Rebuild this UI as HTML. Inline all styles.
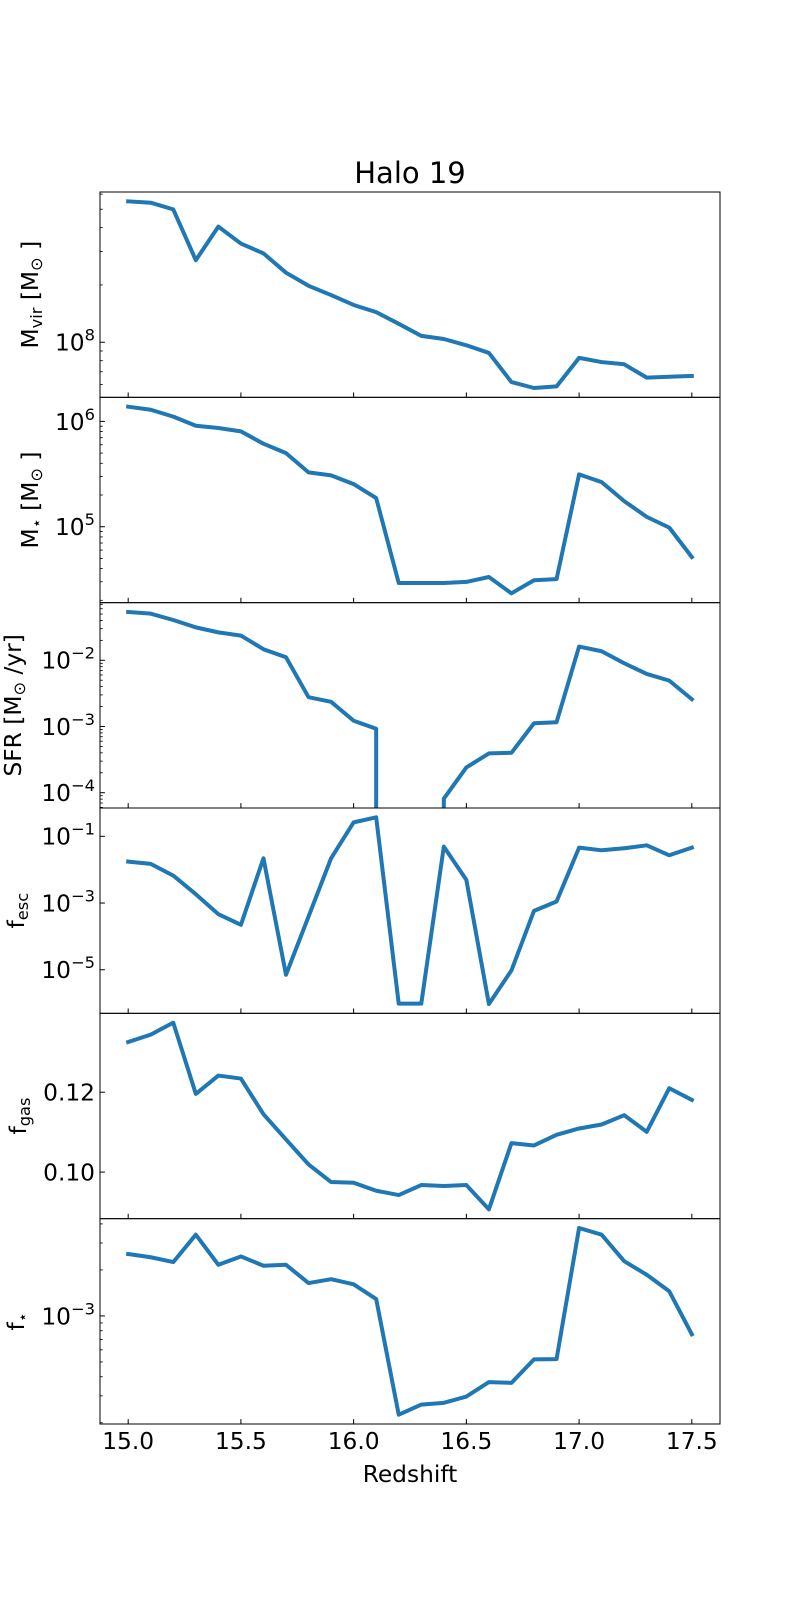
<!DOCTYPE html>
<html><head><meta charset="utf-8"><title>Halo 19</title>
<style>
html,body{margin:0;padding:0;background:#fff;width:800px;height:1600px;overflow:hidden;}
svg{display:block;overflow:hidden;font-family:"DejaVu Sans","Liberation Sans",sans-serif;}
</style></head>
<body>
<svg id="fig" width="800" height="1600" viewBox="0 0 800 1600" xmlns="http://www.w3.org/2000/svg">
<rect x="0" y="0" width="800" height="1600" fill="#fff"/>
<text x="410" y="183" font-size="29" text-anchor="middle" fill="#000">Halo 19</text>
<text x="410" y="1482" font-size="23.3" text-anchor="middle" fill="#000">Redshift</text>
</svg>
<script>
const redshift = [15.0,15.1,15.2,15.3,15.4,15.5,15.6,15.7,15.8,15.9,16.0,16.1,16.2,16.3,16.4,16.5,16.6,16.7,16.8,16.9,17.0,17.1,17.2,17.3,17.4,17.5];
const mvir = [5.50e8,5.41e8,4.99e8,2.70e8,4.05e8,3.30e8,2.93e8,2.32e8,1.98e8,1.77e8,1.57e8,1.44e8,1.25e8,1.08e8,1.04e8,9.64e7,8.79e7,6.18e7,5.75e7,5.86e7,8.28e7,7.87e7,7.66e7,6.52e7,6.59e7,6.65e7];
const mstar = [1.38e6,1.29e6,1.11e6,9.10e5,8.65e5,8.04e5,6.14e5,5.00e5,3.28e5,3.07e5,2.54e5,1.87e5,2.92e4,2.92e4,2.92e4,2.99e4,3.33e4,2.33e4,3.10e4,3.18e4,3.14e5,2.65e5,1.75e5,1.24e5,9.80e4,5.15e4];
const sfr = [5.36e-2,5.06e-2,4.06e-2,3.14e-2,2.64e-2,2.36e-2,1.47e-2,1.11e-2,2.77e-3,2.36e-3,1.22e-3,9.23e-4,0,0,8.13e-5,2.41e-4,3.92e-4,4.01e-4,1.12e-3,1.16e-3,1.61e-2,1.37e-2,9.02e-3,6.22e-3,4.93e-3,2.58e-3];
const fesc = [1.75e-2,1.49e-2,6.65e-3,1.84e-3,4.63e-4,2.22e-4,2.20e-2,7.08e-6,3.94e-4,2.20e-2,2.62e-1,3.71e-1,9.62e-7,9.62e-7,4.91e-2,4.93e-3,9.40e-7,9.55e-6,5.83e-4,1.11e-3,4.58e-2,3.81e-2,4.38e-2,5.38e-2,2.70e-2,4.58e-2];
const fgas = [0.13258,0.13442,0.13742,0.11958,0.12417,0.12342,0.1145,0.10817,0.10192,0.0975,0.09733,0.09533,0.09425,0.09675,0.0965,0.09675,0.09067,0.10725,0.10667,0.10933,0.11092,0.11192,0.11425,0.11008,0.1210,0.11808];
const fstar = [2.54e-3,2.42e-3,2.25e-3,3.40e-3,2.16e-3,2.45e-3,2.13e-3,2.16e-3,1.64e-3,1.74e-3,1.61e-3,1.29e-3,2.26e-4,2.63e-4,2.70e-4,2.97e-4,3.69e-4,3.65e-4,5.20e-4,5.22e-4,3.76e-3,3.40e-3,2.28e-3,1.86e-3,1.45e-3,7.59e-4];
const xTicks = [15.0,15.5,16.0,16.5,17.0,17.5];
const xTickLabels = ["15.0","15.5","16.0","16.5","17.0","17.5"];

const NS = "http://www.w3.org/2000/svg";
const svg = document.getElementById('fig');
const L = 100, R = 720, TOP = 192, H = 1232/6;
const xmin = 14.875, xmax = 17.625;
const FS = 23.3, SFS = 16.3;
function xs(v){ return L + (v - xmin)/(xmax - xmin)*(R - L); }
function mk(tag, attrs, parent){
  const e = document.createElementNS(NS, tag);
  for (const k in attrs) e.setAttribute(k, attrs[k]);
  (parent||svg).appendChild(e);
  return e;
}
const defs = mk('defs', {});

const panels = [
  {key:'mvir', data:mvir, log:true, majors:[8], minor:true, label:[['M',''],['vir','sub'],[' [M',''],['⊙','sub'],[' ]','']], lx:30},
  {key:'mstar', data:mstar, log:true, majors:[5,6], minor:true, label:[['M',''],['⋆','sub'],[' [M',''],['⊙','sub'],[' ]','']], lx:30},
  {key:'sfr', data:sfr, log:true, majors:[-4,-3,-2,-1], minor:true, label:[['SFR [M',''],['⊙','sub'],[' /yr]','']], lx:13},
  {key:'fesc', data:fesc, log:true, majors:[-7,-5,-3,-1], minor:false, label:[['f',''],['esc','sub']], lx:16},
  {key:'fgas', data:fgas, log:false, majors:[0.10,0.12], minor:false, label:[['f',''],['gas','sub']], lx:18},
  {key:'fstar', data:fstar, log:true, majors:[-3], minor:true, label:[['f',''],['⋆','sub']], lx:16}
];

panels.forEach((p, i) => {
  const y0 = TOP + i*H, y1 = y0 + H;
  const g = mk('g', {});
  
  
  const tv = p.log ? p.data.filter(v => v > 0).map(v => Math.log10(v)) : p.data.slice();
  const dmin = Math.min(...tv), dmax = Math.max(...tv), m = (dmax - dmin)*0.05;
  const lo = dmin - m, hi = dmax + m;
  const ysT = t => y1 - (t - lo)/(hi - lo)*H;
  const valid = v => !p.log || v > 0;
  const ys = v => p.log ? ysT(Math.log10(v)) : ysT(v);
  const cp = mk('clipPath', {id:'clip'+i}, defs);
  mk('rect', {x:L, y:y0, width:R-L, height:H}, cp);
  // build path; nonpositive values on log axis drop vertically out of the panel
  let d = '', pen = false;
  p.data.forEach((v, j) => {
    const x = xs(redshift[j]).toFixed(2);
    if (valid(v)) {
      const y = ys(v).toFixed(2);
      if (!pen) {
        if (j > 0) d += 'M' + x + ',' + (y1 + 10) + 'L' + x + ',' + y;
        else d += 'M' + x + ',' + y;
      } else d += 'L' + x + ',' + y;
      pen = true;
    } else {
      if (pen) d += 'L' + xs(redshift[j-1]).toFixed(2) + ',' + (y1 + 10);
      pen = false;
    }
  });
  const line = mk('path', {d:d, fill:'none', stroke:'#1f77b4', 'stroke-width':4, 'stroke-linejoin':'round', 'stroke-linecap':'square', 'clip-path':'url(#clip'+i+')'}, g);
  
  
  const inR = t => t >= lo - 1e-9 && t <= hi + 1e-9;
  if (p.log && p.minor) {
    for (let dec = Math.floor(lo) - 1; dec <= Math.ceil(hi); dec++) {
      for (let s = 2; s <= 9; s++) {
        const t = dec + Math.log10(s);
        if (!inR(t)) continue;
        const y = ysT(t);
        const mt = mk('line', {x1:L, x2:L+2.8, y1:y, y2:y, stroke:'#000', 'stroke-width':0.8}, g);
        
        
      }
    }
  }
  p.majors.forEach(t => {
    if (!inR(t)) return;
    const y = ysT(t);
    const tk = mk('line', {x1:L, x2:L+4.9, y1:y, y2:y, stroke:'#000', 'stroke-width':1}, g);
    
    
    const tx = mk('text', {x:L-5, y:y+8.4, 'font-size':FS, 'text-anchor':'end', fill:'#000'}, g);
    
    
    if (p.log) {
      const b = document.createElementNS(NS, 'tspan'); b.textContent = '10'; tx.appendChild(b);
      const e = document.createElementNS(NS, 'tspan');
      e.setAttribute('font-size', String(SFS)); e.setAttribute('dy', '-10');
      e.textContent = (t < 0 ? '\u2212' + (-t) : String(t));
      tx.appendChild(e);
    } else {
      tx.textContent = t.toFixed(2);
    }
  });
  xTicks.forEach((v, k) => {
    const x = xs(v);
    const tk = mk('line', {x1:x, x2:x, y1:y1, y2:y1-4.9, stroke:'#000', 'stroke-width':1}, g);
    
    
    if (i === panels.length - 1) {
      const tl = mk('text', {x:x, y:1449, 'font-size':FS, 'text-anchor':'middle', fill:'#000'}, g);
      
      
      tl.textContent = xTickLabels[k];
    }
  });
  const fr = mk('rect', {x:L, y:y0, width:R-L, height:H, fill:'none', stroke:'#000', 'stroke-width':1}, g);
  
  
  const cy = (y0 + y1)/2;
  const yl = mk('text', {x:0, y:0, 'font-size':FS, 'text-anchor':'middle', fill:'#000', transform:'translate('+(p.lx+8)+','+cy+') rotate(-90)'}, g);
  
  
  let prevSub = false;
  p.label.forEach(([txt, kind]) => {
    const ts = document.createElementNS(NS, 'tspan');
    if (kind === 'sub') { ts.setAttribute('font-size', String(SFS)); ts.setAttribute('dy', '4'); prevSub = true; }
    else { ts.setAttribute('dy', prevSub ? '-4' : '0'); prevSub = false; }
    ts.textContent = txt;
    yl.appendChild(ts);
  });
});
</script>
</body></html>
